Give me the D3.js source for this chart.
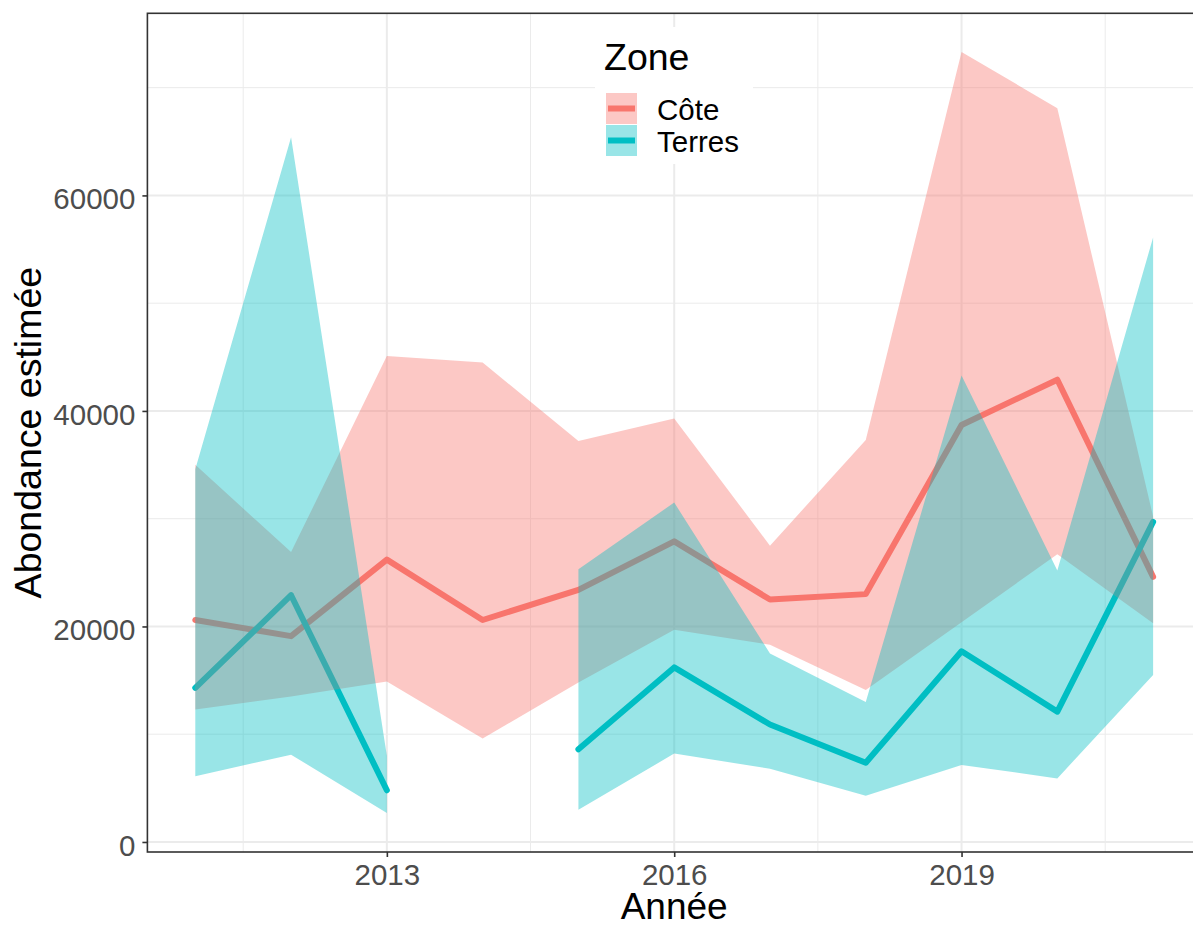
<!DOCTYPE html>
<html><head><meta charset="utf-8">
<script src="https://cdn.jsdelivr.net/npm/d3@7/dist/d3.min.js"></script>
<style>
body{margin:0;background:#fff}
svg{display:block;font-family:"Liberation Sans",Arial,Helvetica,sans-serif}
</style>
</head><body>
<svg id="chart" width="1193" height="926"></svg>
<script>
// ---- data ----
const years      = [2011, 2012, 2013, 2014, 2015, 2016, 2017, 2018, 2019, 2020, 2021];
const coteFit    = [20600, 19100, 26200, 20600, 23400, 27900, 22500, 23000, 38700, 42900, 24600];
const coteLow    = [12300, 13500, 14900,  9600, 14800, 19700, 18300, 14100, 20400, 26700, 20300];
const coteHigh   = [35000, 26900, 45100, 44500, 37200, 39300, 27500, 37300, 73300, 68100, 30200];
const terresFit  = [14300, 22900,  4800, null,  8600, 16200, 10900,  7350, 17700, 12100, 29700];
const terresLow  = [ 6100,  8100,  2700, null,  3000,  8200,  6800,  4300,  7150,  5900, 15500];
const terresHigh = [34600, 65400,  8000, null, 25300, 31500, 17500, 13000, 43300, 25200, 56100];
const zones      = ["Côte", "Terres"];
const zoneColors = ["#F8766D", "#00BFC4"];
const xMajorTicks = [2013, 2016, 2019];
const xMinorTicks = [2011.5, 2014.5, 2017.5, 2020.5];
const yMajorTicks = [0, 20000, 40000, 60000];
const yMinorTicks = [10000, 30000, 50000, 70000];
const xTitle = "Année";
const yTitle = "Abondance estimée";
const legendTitle = "Zone";

const series = [
  {name: zones[0], color: zoneColors[0], pts: years.map((y,i)=>({x:y, fit:coteFit[i], lo:coteLow[i], hi:coteHigh[i]}))},
  {name: zones[1], color: zoneColors[1], pts: years.map((y,i)=>({x:y, fit:terresFit[i], lo:terresLow[i], hi:terresHigh[i]}))}
];

// ---- layout ----
const W = 1193, H = 926;
const P = {left:147.4, right:1201, top:13.3, bottom:852};
const svg = d3.select("#chart");

const x = d3.scaleLinear().domain([2010.5, 2021.5]).range([P.left, P.right]);
const y = d3.scaleLinear().domain([-930, 76900]).range([P.bottom, P.top]);

svg.append("defs").append("clipPath").attr("id","panel")
  .append("rect").attr("x",P.left).attr("y",P.top).attr("width",P.right-P.left).attr("height",P.bottom-P.top);

const panel = svg.append("g").attr("clip-path","url(#panel)");
panel.append("rect").attr("x",P.left).attr("y",P.top).attr("width",P.right-P.left).attr("height",P.bottom-P.top).attr("fill","#fff");

// grid
const grid = panel.append("g").attr("stroke","#EBEBEB");
grid.selectAll(".ymin").data(yMinorTicks).join("line")
  .attr("x1",P.left).attr("x2",P.right).attr("y1",d=>y(d)).attr("y2",d=>y(d)).attr("stroke-width",1);
grid.selectAll(".xmin").data(xMinorTicks).join("line")
  .attr("y1",P.top).attr("y2",P.bottom).attr("x1",d=>x(d)).attr("x2",d=>x(d)).attr("stroke-width",1);
grid.selectAll(".ymaj").data(yMajorTicks).join("line")
  .attr("x1",P.left).attr("x2",P.right).attr("y1",d=>y(d)).attr("y2",d=>y(d)).attr("stroke-width",2);
grid.selectAll(".xmaj").data(xMajorTicks).join("line")
  .attr("y1",P.top).attr("y2",P.bottom).attr("x1",d=>x(d)).attr("x2",d=>x(d)).attr("stroke-width",2);

// lines (drawn beneath the ribbons)
const line = d3.line().defined(d=>d.fit!=null).x(d=>x(d.x)).y(d=>y(d.fit));
panel.selectAll(".fit").data(series).join("path")
  .attr("fill","none").attr("stroke",d=>d.color).attr("stroke-width",6)
  .attr("stroke-linejoin","round").attr("stroke-linecap","round")
  .attr("d",d=>line(d.pts));

// ribbons
const area = d3.area().defined(d=>d.lo!=null).x(d=>x(d.x)).y0(d=>y(d.lo)).y1(d=>y(d.hi));
panel.selectAll(".rib").data(series).join("path")
  .attr("fill",d=>d.color).attr("fill-opacity",0.4).attr("stroke","none")
  .attr("d",d=>area(d.pts));

// panel border
svg.append("rect").attr("x",P.left).attr("y",P.top).attr("width",P.right-P.left).attr("height",P.bottom-P.top)
  .attr("fill","none").attr("stroke","#333333").attr("stroke-width",1.6);

// axes
const xAxis = svg.append("g").attr("transform",`translate(0,${P.bottom})`)
  .call(d3.axisBottom(x).tickValues(xMajorTicks).tickFormat(d3.format("d")).tickSize(5).tickPadding(8));
const yAxis = svg.append("g").attr("transform",`translate(${P.left},0)`)
  .call(d3.axisLeft(y).tickValues(yMajorTicks).tickFormat(d3.format("d")).tickSize(5).tickPadding(7));
[xAxis,yAxis].forEach(a=>{
  a.select(".domain").remove();
  a.selectAll(".tick line").attr("stroke","#333333").attr("stroke-width",1.6);
  a.selectAll(".tick text").attr("fill","#4D4D4D").style("font-size","29.5px").style("font-family","'Liberation Sans',Arial,sans-serif");
});
xAxis.selectAll(".tick text").attr("dy",null).attr("y",33);
yAxis.selectAll(".tick text").attr("dy","0.45em");

// titles
svg.append("text").attr("x",(P.left+P.right)/2).attr("y",919).attr("text-anchor","middle")
  .style("font-size","37px").attr("fill","#000").text(xTitle);
svg.append("text").attr("transform",`translate(41,${(P.top+P.bottom)/2}) rotate(-90)`).attr("text-anchor","middle")
  .style("font-size","37.5px").attr("fill","#000").text(yTitle);

// legend
const lg = svg.append("g");
lg.append("rect").attr("x",595).attr("y",27).attr("width",158).attr("height",137).attr("fill","#fff");
lg.append("text").attr("x",604).attr("y",70).style("font-size","37.5px").attr("fill","#000").text(legendTitle);
const keys = lg.selectAll(".key").data(series).join("g").attr("transform",(d,i)=>`translate(606,${93+i*32})`);
keys.append("rect").attr("width",31).attr("height",31).attr("fill","#fff");
keys.append("rect").attr("width",31).attr("height",31).attr("fill",d=>d.color).attr("fill-opacity",0.4);
keys.append("line").attr("x1",2).attr("x2",29).attr("y1",15.5).attr("y2",15.5)
  .attr("stroke",d=>d.color).attr("stroke-width",6);
keys.append("text").attr("x",51).attr("y",26.5).style("font-size","29.5px").attr("fill","#000").text(d=>d.name);
</script>
</body></html>
